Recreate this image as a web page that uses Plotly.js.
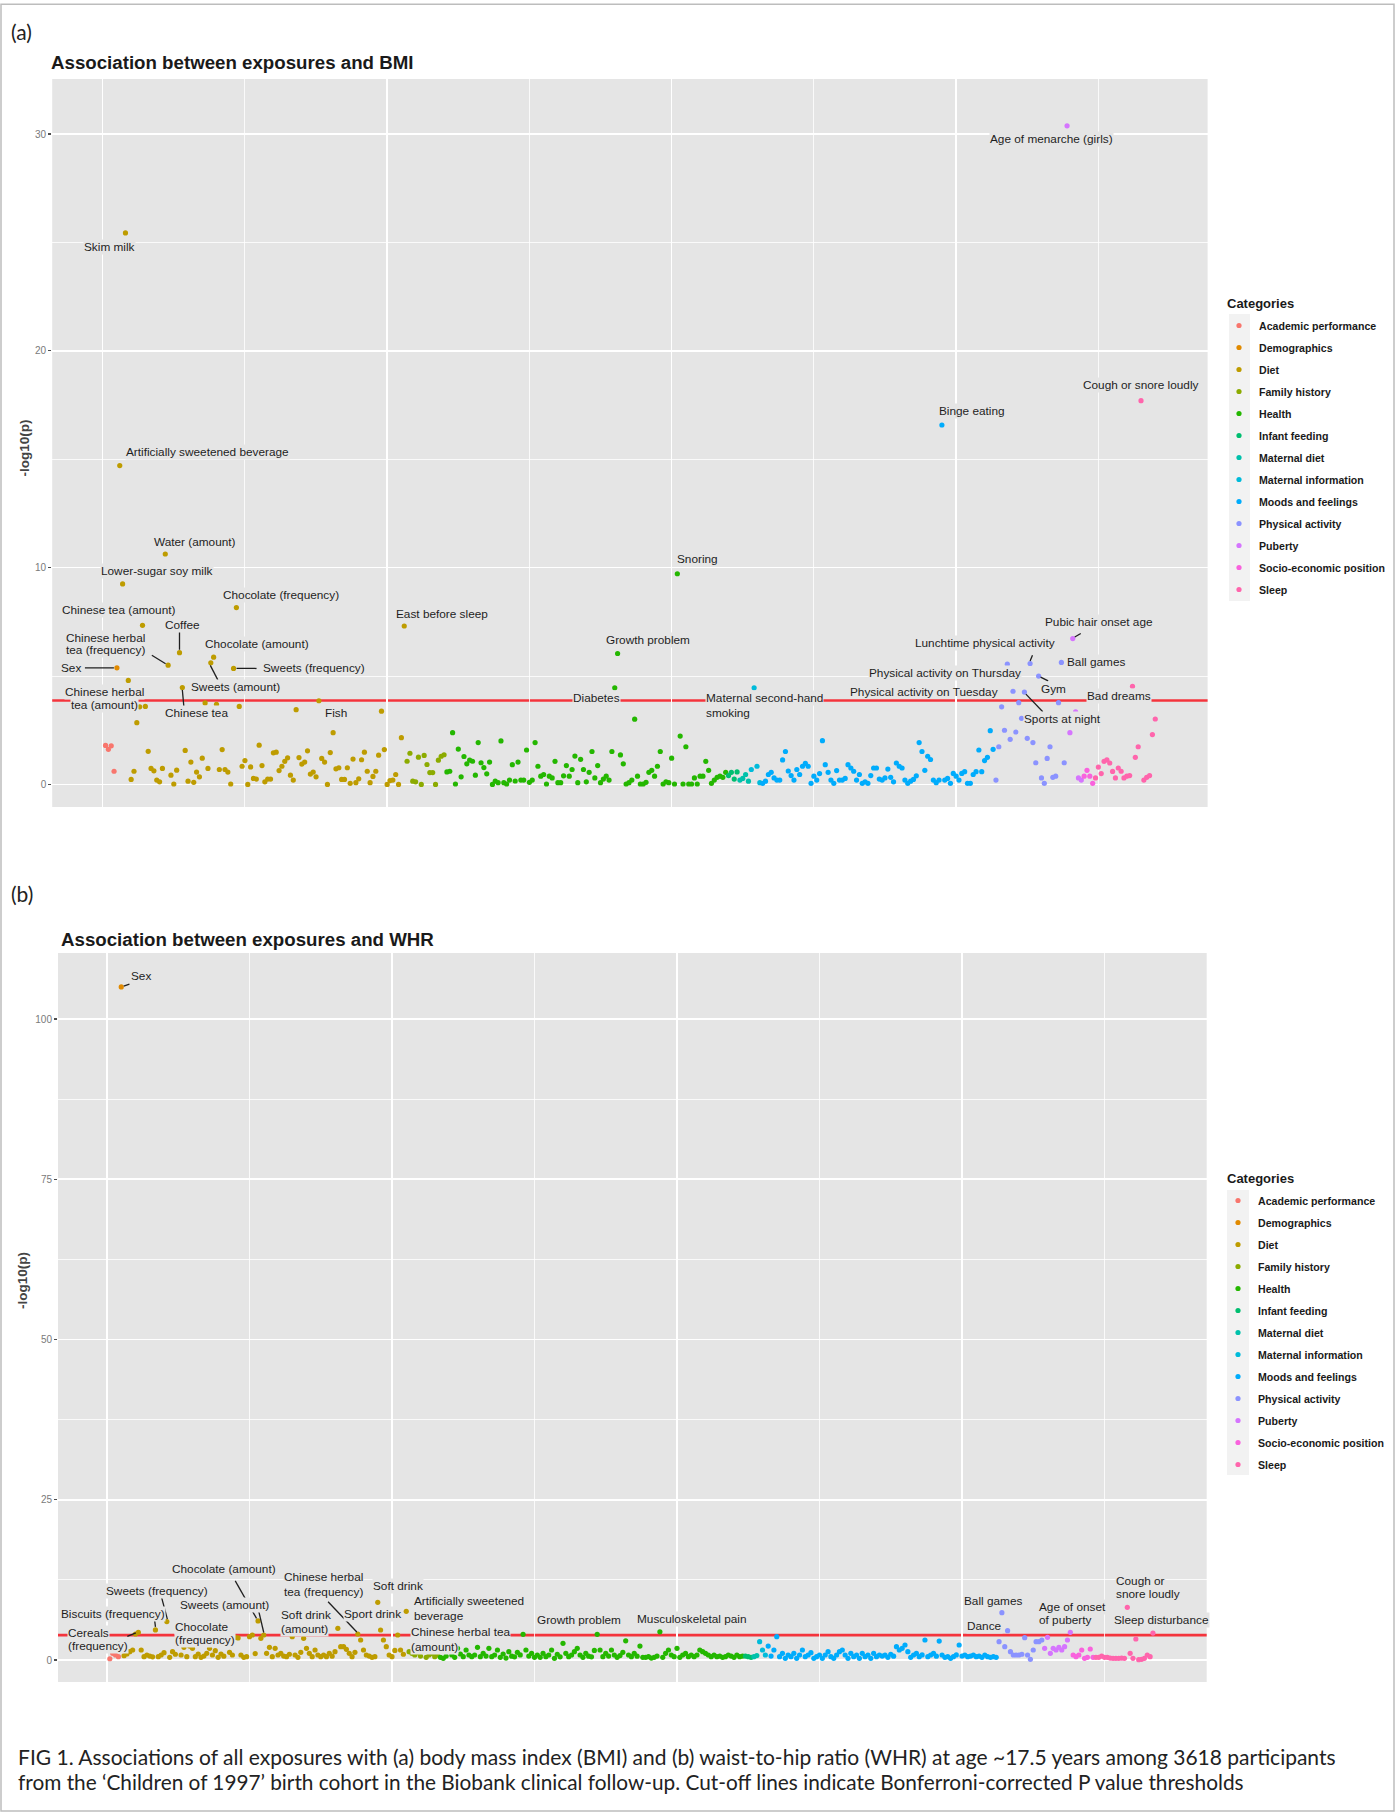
<!DOCTYPE html>
<html><head><meta charset="utf-8">
<script src="https://cdn.plot.ly/plotly-3.0.1.min.js"></script>
<style>html,body{margin:0;padding:0;background:#fff}#chart{width:1400px;height:1813px}</style>
</head><body><div id="chart"></div>
<script>
// ---------------- DATA ----------------
const categories = ['Academic performance','Demographics','Diet','Family history','Health','Infant feeding','Maternal diet','Maternal information','Moods and feelings','Physical activity','Puberty','Socio-economic position','Sleep'];
const categoryColors = ['#F8766D','#E18A00','#BE9C00','#8CAB00','#24B700','#00BE70','#00C1AB','#00BBDA','#00ACFC','#8B93FF','#D575FE','#F962DD','#FF65AC'];

// Panel (a): -log10(p) for BMI, exposures in plotting order within each category
const bmiAcademic = [1.80,1.62,1.78,0.61];
const bmiDemographics = [5.38];
const bmiDiet = [14.71,9.25,25.44,4.80,0.23,0.61,2.85,3.58,7.34,3.60,
 1.53,0.74,0.63,0.20,0.12,0.74,10.63,5.50,0.43,0.02,
 0.66,6.08,4.47,1.57,0.15,1.03,0.10,0.57,0.35,1.21,
 3.76,0.74,5.61,5.87,3.70,0.69,1.61,0.69,0.57,0.02,
 5.35,8.16,3.60,0.84,1.10,0.00,0.81,0.28,0.25,1.81,
 0.87,0.12,0.25,0.25,1.46,1.49,0.64,0.84,1.06,1.23,
 0.43,0.20,3.45,1.24,0.94,1.03,1.55,0.48,0.57,0.35,
 3.86,1.20,1.03,0.00,1.47,2.39,0.72,0.77,0.23,0.23,
 0.77,0.05,1.17,0.08,0.26,1.14,1.49,0.61,0.08,0.37,
 0.61,1.35,3.38,1.61,0.00,0.18,0.20,0.46,0.00,2.16,7.31];
const bmiFamily = [1.07,1.44,0.15,0.12,1.26,0.00,1.34,0.92,0.55,0.55,0.00,1.12,1.30,1.37];
const bmiHealth = [0.58,0.61,2.39,0.02,1.63,0.35,1.29,0.95,1.12,1.07,
 0.43,1.93,1.00,0.78,0.49,1.03,0.00,0.15,0.08,2.01,
 0.08,0.02,0.20,0.91,0.16,1.03,0.20,0.20,1.59,0.10,
 0.20,1.93,0.84,0.38,0.46,0.02,0.38,0.30,1.06,0.08,
 0.08,0.40,0.87,0.38,0.69,1.31,0.08,1.16,0.69,0.12,
 0.56,1.52,0.30,0.87,0.08,0.25,0.38,0.20,1.52,4.46,
 6.04,1.36,0.95,0.02,0.08,0.20,3.01,0.38,0.02,0.02,
 0.10,0.56,0.65,0.38,0.84,1.52,0.02,0.12,0.08,1.21,
 0.02,9.72,2.23,0.02,1.74,0.02,0.02,0.30,0.02,0.38,
 0.38,1.06,0.65,0.05,0.20,0.33,0.38,0.33,0.56];
const bmiInfant = [0.41,0.56,0.25,0.58];
const bmiMaternalDiet = [0.20,0.28,0.46,0.15];
const bmiMaternalInfo = [0.69,4.46,0.84,0.08];
const bmiMoods = [0.05,0.15,0.46,0.56,0.30,0.20,0.20,1.13,1.52,0.62,
 0.41,0.20,0.69,0.46,0.84,0.97,0.84,0.05,0.38,0.20,
 0.50,2.02,0.91,0.56,0.20,0.05,0.64,0.20,0.20,0.28,
 0.91,0.76,0.61,0.20,0.46,0.05,0.12,0.05,0.41,0.76,
 0.76,0.25,0.20,0.30,0.71,0.33,0.12,0.99,0.84,0.76,
 0.20,0.05,0.15,0.23,0.40,1.93,1.52,0.65,1.30,1.15,
 0.20,0.08,0.20,16.58,0.20,0.28,0.05,0.51,0.38,0.20,
 0.51,0.59,0.05,0.05,0.46,0.59,1.59,0.59,1.10,1.25,2.48,1.62];
const bmiPhysical = [0.20,1.74,3.58,2.50,5.55,2.08,4.30,2.42,3.77,3.05,4.26,2.13,5.58,1.93,1.00,5.00,0.30,0.05,1.20,1.74,0.33,0.38,3.77,5.63,1.00];
const bmiPuberty = [30.38,2.39,6.73,3.35,0.30,0.20];
const bmiSocio = [0.38,0.65,0.38,0.05];
const bmiSleep = [0.30,0.80,0.50,1.06,1.13,0.99,0.60,0.30,0.76,0.61,0.30,0.38,0.41,4.53,1.25,1.74,17.70,0.20,0.33,0.41,2.30,3.02];

// Panel (b): -log10(p) for WHR
const whrAcademic = [0.20,1.04,0.78,0.52];
const whrDemographics = [105.0];
const whrDiet = [0.68,0.94,1.30,1.56,4.06,4.30,1.56,0.52,0.78,0.62,
 0.50,4.70,0.52,0.78,1.14,6.00,0.42,1.30,0.90,2.50,
 0.78,1.98,0.52,2.18,1.82,0.52,0.94,0.42,0.62,1.04,
 1.82,0.78,1.46,0.42,0.94,0.60,2.60,1.20,0.78,3.54,
 3.45,0.78,0.42,0.52,3.64,3.90,1.00,6.10,3.38,3.90,
 1.04,1.98,0.52,1.82,0.78,1.04,0.62,0.52,0.90,3.64,
 0.78,0.42,1.20,3.38,1.82,1.04,0.52,1.56,0.78,0.52,
 0.78,0.52,1.04,0.60,1.30,4.94,2.08,2.08,1.66,1.04,
 0.52,1.20,4.06,3.12,1.56,0.78,0.62,0.42,0.52,9.00,
 4.68,3.12,2.08,0.78,0.52,1.50,3.90,1.56,0.90,7.60];
const whrFamily = [1.30,1.04,0.78,1.14,0.62,1.46,0.42,0.78,1.04,0.52,0.80];
const whrHealth = [0.42,0.26,0.62,1.56,0.78,0.42,1.82,0.94,0.52,1.56,
 0.78,0.52,0.78,1.98,0.52,1.04,0.62,1.82,0.52,0.78,
 1.56,0.42,0.94,0.30,1.30,0.60,0.50,1.20,0.80,4.00,
 1.56,0.62,1.04,0.42,0.78,0.42,1.04,0.52,0.78,1.56,
 0.26,0.90,0.50,2.60,1.04,0.52,0.78,1.30,1.82,0.78,
 0.42,1.04,0.60,0.50,1.50,4.00,1.56,0.52,1.04,0.62,
 1.56,0.78,0.42,0.70,1.20,3.00,0.78,0.52,1.04,0.60,
 2.18,0.42,0.42,0.52,0.30,0.42,0.62,4.40,0.42,1.04,
 1.56,0.78,0.52,1.82,0.42,0.78,1.04,0.52,0.78,0.52,
 0.78,1.56,1.30,1.04,0.78,0.52,0.78,0.52,0.62,0.42,
 0.52,0.78,0.62,0.42,0.78,0.52,0.62];
const whrInfant = [0.62,0.52,0.42];
const whrMaternalDiet = [0.52,0.70];
const whrMaternalInfo = [2.86,1.56,0.78];
const whrMoods = [2.18,0.62,1.56,3.64,0.52,1.04,0.26,0.78,0.52,1.04,
 0.26,0.78,1.56,0.52,0.78,1.14,0.26,0.52,0.78,0.26,
 0.78,1.30,0.52,0.26,0.78,1.30,1.56,0.78,0.26,1.04,
 0.52,0.78,0.26,1.04,0.52,0.78,0.26,1.04,0.52,0.78,
 0.62,0.78,0.42,0.90,0.60,2.08,1.56,1.82,2.34,1.30,
 0.42,0.78,1.04,0.52,0.80,3.12,0.52,0.78,1.04,0.60,
 2.96,0.78,0.42,0.52,0.26,0.52,0.80,2.34,0.62,0.78,
 0.52,0.62,0.78,0.52,0.62,0.42,0.78,0.52,0.42,0.52,0.42];
const whrPhysical = [2.86,7.38,2.08,4.58,1.30,0.78,0.78,0.78,0.90,3.48,0.78,0.10,1.56,2.86,2.86,3.12];
const whrPuberty = [1.82,3.54,1.04,1.82,1.56,1.98,1.56,2.08,3.12,4.32];
const whrSocio = [0.78,0.52,0.78,1.56,0.26,0.42,1.72,0.42];
const whrSleep = [0.42,0.42,0.62,0.42,0.42,0.30,0.26,0.26,0.26,0.30,0.26,8.22,1.04,0.26,3.28,0.05,0.10,0.26,0.78,0.52,4.21];

// Bonferroni-corrected thresholds, -log10(p)
const bmiThreshold = 3.87;
const whrThreshold = 3.89;

// Labelled exposures (i = exposure position on the x axis)
const bmiLabelNames = [
 [8,['Skim milk']],[6,['Artificially sweetened beverage']],[22,['Water (amount)']],[7,['Lower-sugar soy milk']],
 [47,['Chocolate (frequency)']],[14,['Chinese tea (amount)']],[27,['Coffee']],[23,['Chinese herbal','tea (frequency)']],
 [39,['Chocolate (amount)']],[5,['Sex']],[46,['Sweets (frequency)']],[38,['Sweets (amount)']],
 [13,['Chinese herbal','tea (amount)']],[28,['Chinese tea']],[76,['Fish']],[106,['East before sleep']],
 [181,['Growth problem']],[180,['Diabetes']],[202,['Snoring']],[295,['Binge eating']],
 [229,['Maternal second-hand','smoking']],[339,['Age of menarche (girls)']],[365,['Cough or snore loudly']],
 [341,['Pubic hair onset age']],[326,['Lunchtime physical activity']],[337,['Ball games']],
 [318,['Physical activity on Thursday']],[329,['Gym']],[320,['Physical activity on Tuesday']],
 [324,['Sports at night']],[362,['Bad dreams']]
];
const whrLabelNames = [
 [5,['Sex']],[11,['Cereals','(frequency)']],[17,['Biscuits (frequency)']],[21,['Sweets (frequency)']],
 [53,['Chocolate (amount)']],[55,['Sweets (amount)']],[46,['Chocolate','(frequency)']],[81,['Soft drink','(amount)']],
 [88,['Chinese herbal','tea (frequency)']],[95,['Soft drink']],[96,['Sport drink']],
 [105,['Artificially sweetened','beverage']],[102,['Chinese herbal tea','(amount)']],[172,['Growth problem']],
 [194,['Musculoskeletal pain']],[314,['Ball games']],[316,['Dance']],[338,['Age of onset','of puberty']],
 [358,['Cough or','snore loudly']],[367,['Sleep disturbance']]
];

// ---------------- LAYOUT / STYLE ----------------
// label placement (pixels): text block offset, alignment, line gap, leader segment offsets
const bmiLabelPlace = {
 8:{dx:-15.7,dy:13.7}, 6:{dx:87.8,dy:-13.3}, 22:{dx:29.8,dy:-11.9}, 7:{dx:34.5,dy:-12.9},
 47:{dx:44.9,dy:-13}, 14:{dx:-23.1,dy:-15.8}, 27:{dx:2.9,dy:-28.1,seg:[0,-21,0,-3]},
 23:{dx:-62.7,dy:-21.3,gap:12.7,seg:[-16.3,-10,-2.5,-1.5]}, 39:{dx:43.7,dy:-12.7},
 5:{dx:-45.5,dy:0,seg:[-32,0,-3,0]}, 46:{dx:80.6,dy:-0.6,seg:[3,0,23,0]}, 38:{dx:24.7,dy:24.1,seg:[-0.5,2.5,7,17]},
 13:{dx:-34.7,dy:-8,gap:12.7}, 28:{dx:14,dy:25.9,seg:[0,2.5,1.5,19]}, 76:{dx:16.8,dy:12}, 106:{dx:37.4,dy:-12.4},
 181:{dx:30.1,dy:-14}, 180:{dx:-18.2,dy:10.7}, 202:{dx:20.3,dy:-15}, 295:{dx:30.5,dy:-13.7},
 229:{dx:-48.8,dy:17.9,left:true,gap:14.4}, 339:{dx:-15.6,dy:12.7}, 365:{dx:0,dy:-15.7},
 341:{dx:26.2,dy:-16.6,seg:[8,-5,2,-1.5]}, 326:{dx:-44.8,dy:-20,seg:[2.4,-8.3,0,-2.5]}, 337:{dx:34.9,dy:-0.5},
 318:{dx:-62.3,dy:9.3}, 329:{dx:14.4,dy:12.8,seg:[2,1,9.5,4.8]}, 320:{dx:-88.8,dy:1.2,clear:true},
 324:{dx:38.2,dy:27.3,seg:[1.5,2,18.4,19.7]}, 362:{dx:-13.7,dy:9.9}
};
const whrLabelPlace = {
 5:{dx:19.9,dy:-11.2,seg:[2.5,-0.8,8.2,-2.8]}, 11:{dx:-71.4,dy:6.9,left:true,gap:13.3,seg:[-11,4,-2.5,0.5]},
 17:{dx:-42.7,dy:-16,seg:[-1,-11,0,-3]}, 21:{dx:-10.2,dy:-30.8,seg:[-5.2,-24,0.5,-2.5]},
 53:{dx:-34,dy:-51.6,seg:[-22.8,-40,-1.5,-2.5]}, 55:{dx:-39.2,dy:-30,seg:[-4.9,-23.3,0,-2.5]},
 46:{dx:-64,dy:-4.6,left:true,gap:13.3}, 81:{dx:-57.5,dy:-6.3,left:true,gap:14.3},
 88:{dx:-74.3,dy:-49.5,left:true,gap:14.3,seg:[-29.7,-32.3,-1,-2]}, 95:{dx:20.3,dy:-16.6}, 96:{dx:-8.5,dy:-16},
 105:{dx:6.7,dy:-2.5,left:true,gap:15}, 102:{dx:12.1,dy:4.5,left:true,gap:14.3},
 172:{dx:-18.6,dy:-14.4}, 194:{dx:31.9,dy:-12.8}, 314:{dx:-8.8,dy:-11.7}, 316:{dx:-23,dy:-4.6},
 338:{dx:-32.3,dy:-19,left:true,gap:13.3}, 358:{dx:-12.1,dy:-19.8,left:true,gap:13.7}, 367:{dx:8.6,dy:-13}
};

const FONT = '"Liberation Sans", Arial, Helvetica, sans-serif';
const CAPFONT = 'Lato, "Open Sans", sans-serif';
const PANEL = '#E5E5E5';
const W = 1400, H = 1813;
const px = p => p / W;
const py = p => 1 - p / H;

const bmiSeries = [bmiAcademic,bmiDemographics,bmiDiet,bmiFamily,bmiHealth,bmiInfant,bmiMaternalDiet,bmiMaternalInfo,bmiMoods,bmiPhysical,bmiPuberty,bmiSocio,bmiSleep];
const whrSeries = [whrAcademic,whrDemographics,whrDiet,whrFamily,whrHealth,whrInfant,whrMaternalDiet,whrMaternalInfo,whrMoods,whrPhysical,whrPuberty,whrSocio,whrSleep];

function buildTraces(series, xa, ya, legendName){
  let n = 0; const traces = []; const lookup = {};
  series.forEach((vals, ci) => {
    const xs = vals.map(v => { n += 1; lookup[n] = v; return n; });
    traces.push({type:'scatter', mode:'markers', x:xs, y:vals, xaxis:xa, yaxis:ya,
      name:categories[ci], legend:legendName, legendgroup:legendName+'_'+ci, showlegend:true,
      marker:{color:categoryColors[ci], size:5.2, line:{width:0}}, hoverinfo:'skip'});
  });
  return {traces, lookup};
}
const A = buildTraces(bmiSeries, 'x', 'y', 'legend');
const B = buildTraces(whrSeries, 'x2', 'y2', 'legend2');

const annotations = [];
const shapes = [];
const labelFont = {family:FONT, size:11.8, color:'#1e1e1e'};

// threshold lines (under the points)
shapes.push({type:'line', xref:'x domain', x0:0, x1:1, yref:'y', y0:bmiThreshold, y1:bmiThreshold, line:{color:'#F4343C', width:2.6}, layer:'below'});
shapes.push({type:'line', xref:'x2 domain', x0:0, x1:1, yref:'y2', y0:whrThreshold, y1:whrThreshold, line:{color:'#F4343C', width:2.6}, layer:'below'});

function addLabels(names, place, lookup, xr, yr){
  names.forEach(([i, lines]) => {
    const P = place[i]; const yv = lookup[i];
    const n = lines.length, gap = P.gap || 13.3;
    for (let k = n - 1; k >= 0; k--) {
      const off = P.dy + (k - (n - 1) / 2) * gap;
      annotations.push({xref:xr, yref:yr, x:i, y:yv, text:lines[k], showarrow:false,
        xanchor:P.left ? 'left' : 'center', yanchor:'middle', xshift:P.dx, yshift:-off,
        font:labelFont, bgcolor:P.clear ? 'rgba(0,0,0,0)' : PANEL, borderpad:0});
    }
    if (P.seg) {
      shapes.push({type:'line', xref:xr, yref:yr, xsizemode:'pixel', ysizemode:'pixel',
        xanchor:i, yanchor:yv, x0:P.seg[0], y0:-P.seg[1], x1:P.seg[2], y1:-P.seg[3],
        line:{color:'#1f1f1f', width:1.3}, layer:'above'});
    }
  });
}
addLabels(bmiLabelNames, bmiLabelPlace, A.lookup, 'x', 'y');
addLabels(whrLabelNames, whrLabelPlace, B.lookup, 'x2', 'y2');

// legend key backgrounds
shapes.push({type:'rect', xref:'paper', yref:'paper', x0:px(1229), x1:px(1250), y0:py(601), y1:py(314), fillcolor:'#F2F2F2', line:{width:0}, layer:'below'});
shapes.push({type:'rect', xref:'paper', yref:'paper', x0:px(1227), x1:px(1249), y0:py(1475), y1:py(1190), fillcolor:'#F2F2F2', line:{width:0}, layer:'below'});
// outer frame
shapes.push({type:'rect', xref:'paper', yref:'paper', x0:px(1), x1:px(1394), y0:py(1811), y1:py(4.3), line:{color:'#BDBDBD', width:1.5}, fillcolor:'rgba(0,0,0,0)', layer:'above'});

// text annotations
const txt = (x, y, text, font, opts) => annotations.push(Object.assign({xref:'paper', yref:'paper', x:px(x), y:py(y), text, showarrow:false, xanchor:'left', yanchor:'middle', font}, opts || {}));
txt(9, 32, '(a)', {family:CAPFONT, size:21, color:'#222'});
txt(9, 893, '(b)', {family:CAPFONT, size:21, color:'#222'});
txt(49, 62, 'Association between exposures and BMI', {family:FONT, size:18.7, color:'#1a1a1a', weight:'bold'});
txt(59, 939, 'Association between exposures and WHR', {family:FONT, size:18.7, color:'#1a1a1a', weight:'bold'});
txt(24.5, 448, '-log10(p)', {family:FONT, size:13.5, color:'#444', weight:'bold'}, {textangle:-90, xanchor:'center'});
txt(22, 1281, '-log10(p)', {family:FONT, size:13.5, color:'#444', weight:'bold'}, {textangle:-90, xanchor:'center'});
txt(1225, 303.7, 'Categories', {family:FONT, size:13, color:'#1a1a1a', weight:'bold'});
txt(1225, 1178, 'Categories', {family:FONT, size:13, color:'#1a1a1a', weight:'bold'});
txt(16, 1756, 'FIG 1. Associations of all exposures with (a) body mass index (BMI) and (b) waist-to-hip ratio (WHR) at age ~17.5 years among 3618 participants', {family:CAPFONT, size:21, color:'#222'});
txt(16, 1781, 'from the \u2018Children of 1997\u2019 birth cohort in the Biobank clinical follow-up. Cut-off lines indicate Bonferroni-corrected P value thresholds', {family:CAPFONT, size:20.8, color:'#222'});

const xCommon = {showticklabels:false, ticks:'', tick0:0, dtick:100, showgrid:true, gridcolor:'#FFFFFF', gridwidth:1.6,
  minor:{dtick:50, showgrid:true, gridcolor:'#FFFFFF', gridwidth:0.8}, zeroline:false, showline:false, fixedrange:true};
const yCommon = {tick0:0, ticks:'outside', ticklen:3, tickwidth:1.2, tickcolor:'#4d4d4d',
  tickfont:{family:FONT, size:10, color:'#7a7a7a'}, showgrid:true, gridcolor:'#FFFFFF', gridwidth:1.6,
  zeroline:false, showline:false, fixedrange:true};
const legendCommon = {bgcolor:'rgba(0,0,0,0)', font:{family:FONT, size:10.6, color:'#1a1a1a', weight:'bold'},
  tracegroupgap:3, itemsizing:'trace', xanchor:'left', yanchor:'top', itemclick:false, itemdoubleclick:false};

const layout = {
  width:W, height:H, margin:{l:0, r:0, t:0, b:0, pad:0}, paper_bgcolor:'#FFFFFF', plot_bgcolor:PANEL,
  font:{family:FONT},
  xaxis:Object.assign({}, xCommon, {domain:[px(52.2), px(1207.6)], range:[-17.75, 388.4], anchor:'y'}),
  yaxis:Object.assign({}, yCommon, {domain:[py(807), py(79)], range:[-1.04, 32.54], dtick:10, anchor:'x',
    minor:{dtick:5, showgrid:true, gridcolor:'#FFFFFF', gridwidth:0.8}}),
  xaxis2:Object.assign({}, xCommon, {domain:[px(58), px(1206.7)], range:[-17.19, 385.86], anchor:'y2'}),
  yaxis2:Object.assign({}, yCommon, {domain:[py(1682), py(953)], range:[-3.43, 110.3], dtick:25, anchor:'x2',
    minor:{dtick:12.5, showgrid:true, gridcolor:'#FFFFFF', gridwidth:0.8}}),
  legend:Object.assign({}, legendCommon, {x:px(1219), y:py(311)}),
  legend2:Object.assign({}, legendCommon, {x:px(1218), y:py(1186)}),
  annotations, shapes, showlegend:true
};

Plotly.newPlot('chart', A.traces.concat(B.traces), layout, {staticPlot:true, displayModeBar:false});
</script></body></html>
